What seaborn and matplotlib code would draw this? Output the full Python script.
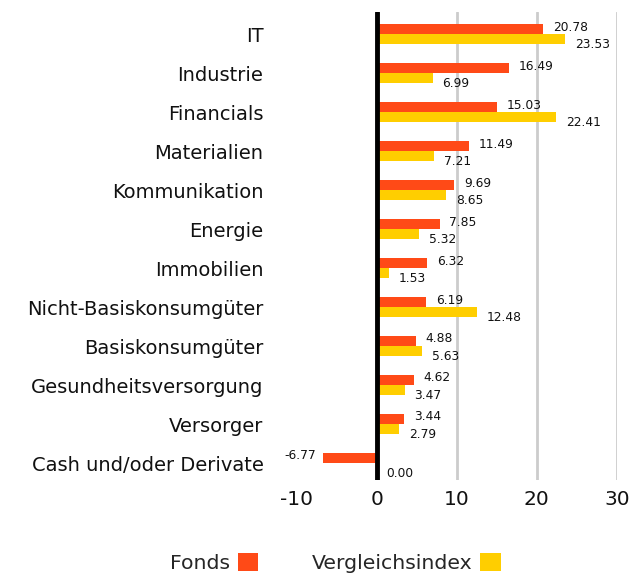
import numpy as np
import pandas as pd
import seaborn as sns
from matplotlib import pyplot as plt

categories = [
    "IT",
    "Industrie",
    "Financials",
    "Materialien",
    "Kommunikation",
    "Energie",
    "Immobilien",
    "Nicht-Basiskonsumgüter",
    "Basiskonsumgüter",
    "Gesundheitsversorgung",
    "Versorger",
    "Cash und/oder Derivate",
]
fonds = [20.78, 16.49, 15.03, 11.49, 9.69, 7.85, 6.32, 6.19, 4.88, 4.62, 3.44, -6.77]
index = [23.53, 6.99, 22.41, 7.21, 8.65, 5.32, 1.53, 12.48, 5.63, 3.47, 2.79, 0.00]
series = ["Fonds", "Vergleichsindex"]
xticks = [-10, 0, 10, 20, 30]

if __name__ == "__main__":
    df = pd.DataFrame({
        "Kategorie": categories * 2,
        "Wert": fonds + index,
        "Serie": [series[0]] * len(categories) + [series[1]] * len(categories),
    })

    sns.set_style("white")
    plt.rcParams["font.family"] = ["DejaVu Sans"]

    fig = plt.figure(figsize=(6.3, 5.74), dpi=100)
    ax = fig.add_axes([0.471, 0.164, 0.508, 0.815])

    sns.barplot(
        data=df,
        y="Kategorie",
        x="Wert",
        hue="Serie",
        orient="h",
        palette=["#FF4A17", "#FFCE00"],
        width=0.52,
        saturation=1,
        linewidth=0,
        ax=ax,
        legend=True,
    )

    ax.set_xlim(-10, 30)
    ax.set_ylim(11.43, -0.57)
    ax.set_xticks(xticks)
    ax.set_xticklabels([str(t) for t in xticks], fontsize=14.5, color="#111111")
    ax.tick_params(axis="y", labelsize=14, pad=24, length=0, labelcolor="#111111")
    ax.tick_params(axis="x", length=0, pad=7)
    ax.set_xlabel("")
    ax.set_ylabel("")
    for s in ax.spines.values():
        s.set_visible(False)

    for t in [10, 20, 30]:
        ax.axvline(t, color="#cccccc", lw=2, zorder=0)
    ax.axvline(0, color="black", lw=3.5, zorder=3)

    # value labels
    for k, cont in enumerate(ax.containers):
        vals = fonds if k == 0 else index
        dy = 1.5 if k == 0 else -3.5
        for bar, v in zip(cont, vals):
            y = bar.get_y() + bar.get_height() / 2
            if v < 0:
                ax.annotate(f"{v:.2f}", (v, y), xytext=(-5, dy), textcoords="offset points",
                            ha="right", va="center", fontsize=8.8, color="#111111")
            else:
                ax.annotate(f"{v:.2f}", (v, y), xytext=(7, dy), textcoords="offset points",
                            ha="left", va="center", fontsize=8.8, color="#111111")

    handles, labels = ax.get_legend_handles_labels()
    ax.get_legend().remove()
    fig.legend(handles, labels, loc="center", bbox_to_anchor=(0.532, 0.019), ncol=2,
               frameon=False, markerfirst=False, fontsize=14.7, handlelength=1.0,
               handleheight=1.0, columnspacing=2.6, handletextpad=0.4)

    plt.savefig("out.png", dpi=100)
